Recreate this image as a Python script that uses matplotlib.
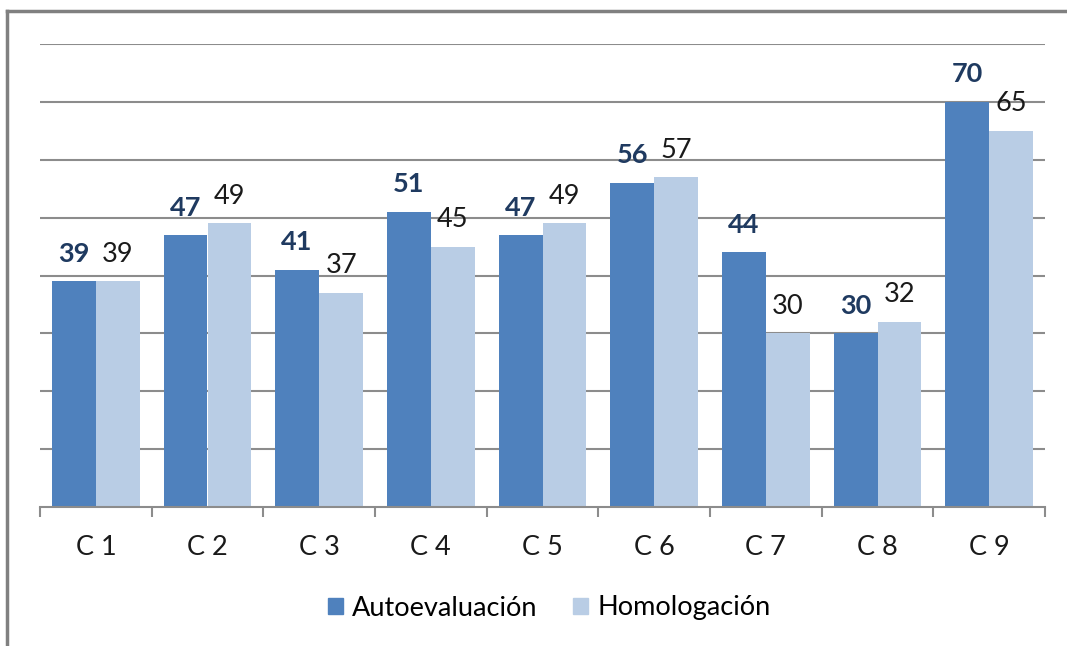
import matplotlib
matplotlib.use('Agg')
import matplotlib.pyplot as plt
from matplotlib.lines import Line2D
from matplotlib.patches import Patch
import numpy as np

categories = ['C 1', 'C 2', 'C 3', 'C 4', 'C 5', 'C 6', 'C 7', 'C 8', 'C 9']
autoevaluacion = [39, 47, 41, 51, 47, 56, 44, 30, 70]
homologacion = [39, 49, 37, 45, 49, 57, 30, 32, 65]

dark = '#4F81BD'
light = '#B9CDE5'
grid_col = '#8C8C8C'

plt.rcParams['font.family'] = ['Lato', 'DejaVu Sans']

fig = plt.figure(figsize=(10.67, 6.46), dpi=100)
ax = fig.add_axes([40 / 1067, 1 - 507 / 646, 1005 / 1067, 463 / 646])

x = np.arange(len(categories))
w = 0.394
b1 = ax.bar(x - w / 2, autoevaluacion, w, color=dark, zorder=2)
b2 = ax.bar(x + w / 2, homologacion, w, color=light, zorder=2)

for rect, v in zip(b1, autoevaluacion):
    ax.annotate(str(v), (rect.get_x() + rect.get_width() / 2, v),
                xytext=(0, 14), textcoords='offset points',
                ha='center', va='baseline', fontsize=19.5, fontweight='bold',
                color='#1F3A60')
for rect, v in zip(b2, homologacion):
    ax.annotate(str(v), (rect.get_x() + rect.get_width() / 2, v),
                xytext=(0, 14), textcoords='offset points',
                ha='center', va='baseline', fontsize=19.5, color='#1a1a1a')

ax.set_xlim(-0.5, len(categories) - 0.5)
ax.set_ylim(0, 80)
ax.set_yticks(np.arange(10, 81, 10))
ax.yaxis.grid(True, color=grid_col, linewidth=1.5, zorder=0)
ax.tick_params(axis='y', length=0, labelleft=False)

ax.set_xticks(x)
ax.set_xticklabels(categories, fontsize=19.5, color='#1a1a1a')
ax.set_xticks(np.arange(-0.5, len(categories), 1), minor=True)
ax.tick_params(axis='x', which='major', length=0, pad=20)
ax.tick_params(axis='x', which='minor', length=7, width=1.5, color=grid_col)

for s in ['top', 'left', 'right']:
    ax.spines[s].set_visible(False)
ax.spines['bottom'].set_color(grid_col)
ax.spines['bottom'].set_linewidth(1.5)

handles = [Patch(color=dark, label='Autoevaluación'),
           Patch(color=light, label='Homologación')]
fig.legend(handles=handles, loc='center', bbox_to_anchor=(549 / 1067, 1 - 608 / 646),
           ncol=2, frameon=False, fontsize=19.5, handlelength=0.55, handleheight=0.55,
           handletextpad=0.35, columnspacing=1.3)

# outer frame (left and top edges visible)
fig.add_artist(Line2D([7 / 1067, 7 / 1067], [0, 1 - 11 / 646],
                      transform=fig.transFigure, color='#808080', linewidth=2.5))
fig.add_artist(Line2D([7 / 1067, 1], [1 - 11 / 646, 1 - 11 / 646],
                      transform=fig.transFigure, color='#808080', linewidth=2.5))

fig.savefig('out.png', dpi=100)
